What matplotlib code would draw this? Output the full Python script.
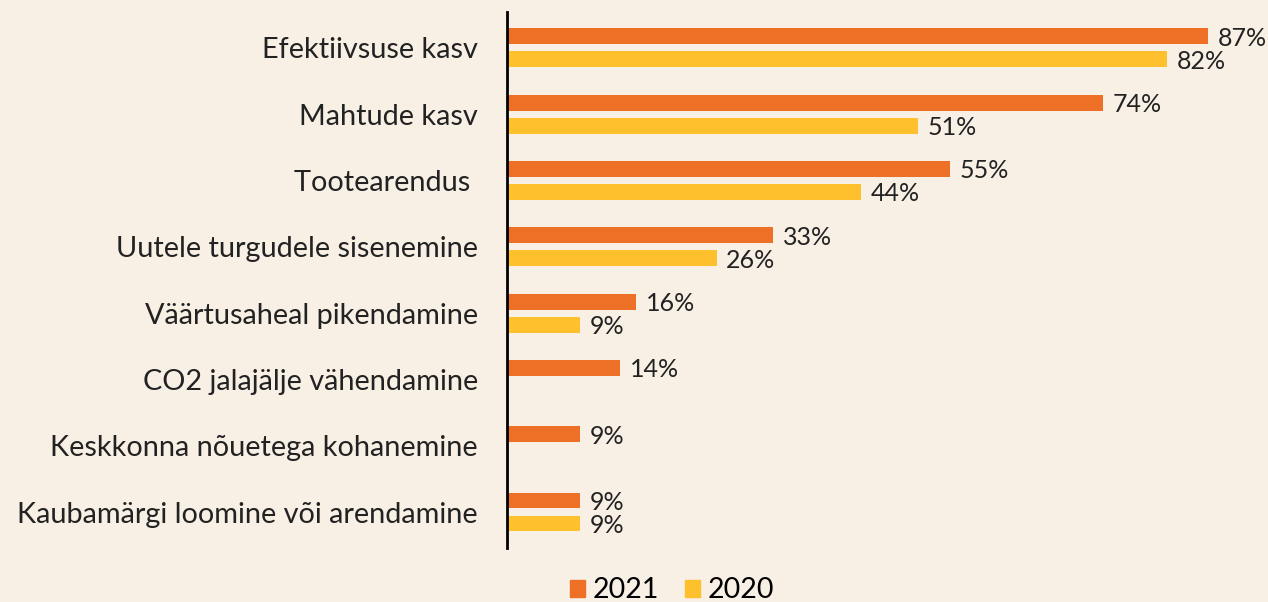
import numpy as np
import matplotlib.pyplot as plt
from matplotlib.patches import Patch

# data
categories = ['Efektiivsuse kasv', 'Mahtude kasv', 'Tootearendus ',
              'Uutele turgudele sisenemine', 'Väärtusaheal pikendamine',
              'CO2 jalajälje vähendamine', 'Keskkonna nõuetega kohanemine',
              'Kaubamärgi loomine või arendamine']
values_2021 = [87, 74, 55, 33, 16, 14, 9, 9]
values_2020 = [82, 51, 44, 26, 9, 0, 0, 9]

bg = '#F8EFE5'
orange = '#EE7027'
yellow = '#FEC02D'

plt.rcParams['font.family'] = ['Lato', 'DejaVu Sans']

fig = plt.figure(figsize=(12.68, 6.02), dpi=100, facecolor=bg)
ax = fig.add_axes([0.4, 0.09, 0.6, 0.89], facecolor=bg)

y = np.arange(len(categories))
h = 0.24
off = 0.173

# bars, 2020 left out where value is zero
ax.barh(y - off, values_2021, height=h, color=orange, label='2021')
y20 = [yy + off for yy, v in zip(y, values_2020) if v > 0]
v20 = [v for v in values_2020 if v > 0]
ax.barh(y20, v20, height=h, color=yellow, label='2020')

# value labels
for yy, v in zip(y, values_2021):
    ax.text(v + 1.2, yy - off + 0.03, f'{v}%', va='center', ha='left', fontsize=18, color='#222222')
for yy, v in zip(y20, v20):
    ax.text(v + 1.2, yy + 0.03, f'{v}%', va='center', ha='left', fontsize=18, color='#222222')

ax.set_xlim(0, 94.5)
ax.set_ylim(7.54, -0.54)
ax.set_yticks(y)
ax.set_yticklabels(categories, fontsize=20.8, color='#222222')
ax.tick_params(axis='y', length=0, pad=21)
ax.set_xticks([])

for s in ['top', 'right', 'bottom']:
    ax.spines[s].set_visible(False)
ax.spines['left'].set_linewidth(2)
ax.spines['left'].set_color('black')

handles = [Patch(color=orange, label='2021'), Patch(color=yellow, label='2020')]
fig.legend(handles=handles, loc='lower center', bbox_to_anchor=(0.530, -0.045), ncol=2,
           frameon=False, fontsize=20.5, handlelength=0.53, handleheight=0.53,
           handletextpad=0.28, columnspacing=0.88)

fig.savefig('out.png', dpi=100, facecolor=bg)
